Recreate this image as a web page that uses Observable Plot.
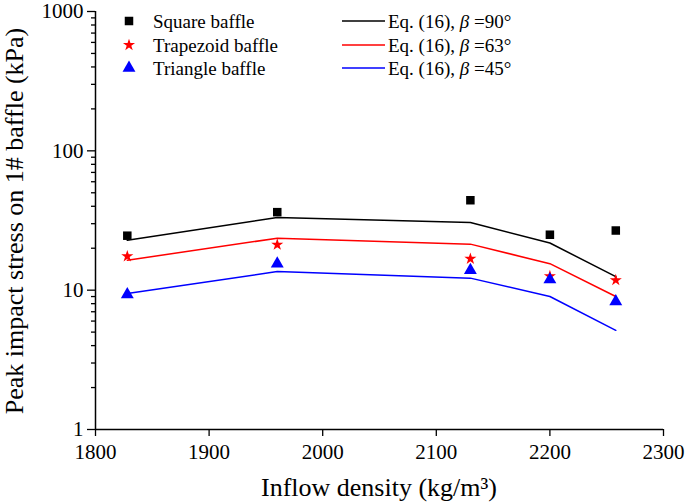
<!DOCTYPE html>
<html>
<head>
<meta charset="utf-8">
<script src="https://cdn.jsdelivr.net/npm/d3@7"></script>
<script src="https://cdn.jsdelivr.net/npm/@observablehq/plot@0.6"></script>
<style>
  html, body { margin: 0; padding: 0; background: #fff; }
  #chart { width: 685px; height: 502px; }
</style>
</head>
<body>
<div id="chart"></div>
<script>
// ---- data ----
const densities = [1828, 1960, 2130, 2200, 2258];
const squareStress = [24.6, 36.3, 44.2, 25.0, 26.8];
const trapezoidStress = [17.5, 21.2, 16.8, 12.6, 11.8];
const triangleStress = [9.3, 15.5, 13.9, 11.9, 8.3];
const eq90 = [22.8, 33.2, 30.6, 21.8, 12.5];
const eq63 = [16.4, 23.6, 21.4, 15.5, 9.0];
const eq45 = [9.47, 13.6, 12.2, 9.0, 5.15];

const xTicks = [1800, 1900, 2000, 2100, 2200, 2300];
const yMajorTicks = [1, 10, 100, 1000];
const yMinorTicks = [2,3,4,5,6,7,8,9,20,30,40,50,60,70,80,90,200,300,400,500,600,700,800,900];

const markerSeries = ["Square baffle", "Trapezoid baffle", "Triangle baffle"];
const lineSeries = ["90", "63", "45"];
const seriesColors = ["#000000", "#ff0000", "#0000ff"];
const symbols = ["square", "star", "triangle"];
const symbolR = [4.8, 3.8, 4.8];

const pts = (ys, s) => densities.map((x, i) => ({x, y: ys[i], s}));
const markerData = [squareStress, trapezoidStress, triangleStress];
const lineData = [eq90, eq63, eq45];

const font = "'Liberation Serif', 'Times New Roman', 'DejaVu Serif', serif";

const marks = [
  Plot.axisX({ticks: xTicks, tickSize: 7, tickPadding: 8, tickFormat: d => String(d), label: null, fontSize: 21, fontFamily: font, strokeWidth: 1.3}),
  Plot.axisY({ticks: yMajorTicks, tickSize: 8, tickPadding: 4, tickFormat: d => String(d), label: null, fontSize: 21, fontFamily: font, strokeWidth: 1.3}),
  Plot.axisY({ticks: yMinorTicks, tickSize: 4, tickFormat: () => "", label: null, strokeWidth: 1.3}),
  Plot.ruleX([1800], {stroke: "#000", strokeWidth: 1.5}),
  Plot.ruleY([1], {stroke: "#000", strokeWidth: 1.5})
];
lineData.forEach((ys, k) => {
  marks.push(Plot.line(pts(ys, k), {x: "x", y: "y", stroke: seriesColors[k], strokeWidth: 1.5}));
});
markerData.forEach((ys, k) => {
  marks.push(Plot.dot(pts(ys, k), {x: "x", y: "y", symbol: symbols[k], fill: seriesColors[k], stroke: "none", r: symbolR[k]}));
});

const chart = Plot.plot({
  width: 685,
  height: 502,
  marginLeft: 95,
  marginRight: 22,
  marginTop: 11,
  marginBottom: 73,
  style: {fontFamily: font, fontSize: "20px", color: "#000", background: "#fff", overflow: "visible"},
  x: {domain: [1800, 2300]},
  y: {type: "log", domain: [1, 1000]},
  marks
});
document.getElementById("chart").appendChild(chart);

// ---- titles and legend ----
const svg = d3.select(chart);
svg.append("text")
  .attr("x", 379).attr("y", 496)
  .attr("text-anchor", "middle")
  .style("font-size", "26px").attr("fill", "#000")
  .text("Inflow density (kg/m³)");
svg.append("text")
  .attr("transform", "translate(23,221) rotate(-90)")
  .attr("text-anchor", "middle")
  .style("font-size", "26px").attr("fill", "#000")
  .text("Peak impact stress on 1# baffle (kPa)");

const legY = [21, 45, 68];
const lg = svg.append("g").style("font-size", "19px").attr("text-anchor", "start");
markerSeries.forEach((name, k) => {
  const sym = {square: d3.symbolSquare, star: d3.symbolStar, triangle: d3.symbolTriangle}[symbols[k]];
  const r = symbolR[k];
  lg.append("path")
    .attr("d", d3.symbol(sym, Math.PI * r * r)())
    .attr("transform", `translate(129,${legY[k]})`)
    .attr("fill", seriesColors[k]);
  lg.append("text").attr("x", 153).attr("y", legY[k]).attr("dy", "0.35em").attr("text-anchor", "start").attr("fill", "#000").text(name);
});
lineSeries.forEach((ang, k) => {
  lg.append("line").attr("x1", 342).attr("x2", 385).attr("y1", legY[k]).attr("y2", legY[k])
    .attr("stroke", seriesColors[k]).attr("stroke-width", 1.5);
  const t = lg.append("text").attr("x", 388).attr("y", legY[k]).attr("dy", "0.35em").attr("text-anchor", "start").attr("fill", "#000");
  t.append("tspan").text("Eq. (16), ");
  t.append("tspan").attr("font-style", "italic").text("β");
  t.append("tspan").text(" =" + ang + "°");
});

// force the serif face on every text element with an inline style
svg.selectAll("text, tspan").style("font-family", font);
</script>
</body>
</html>
